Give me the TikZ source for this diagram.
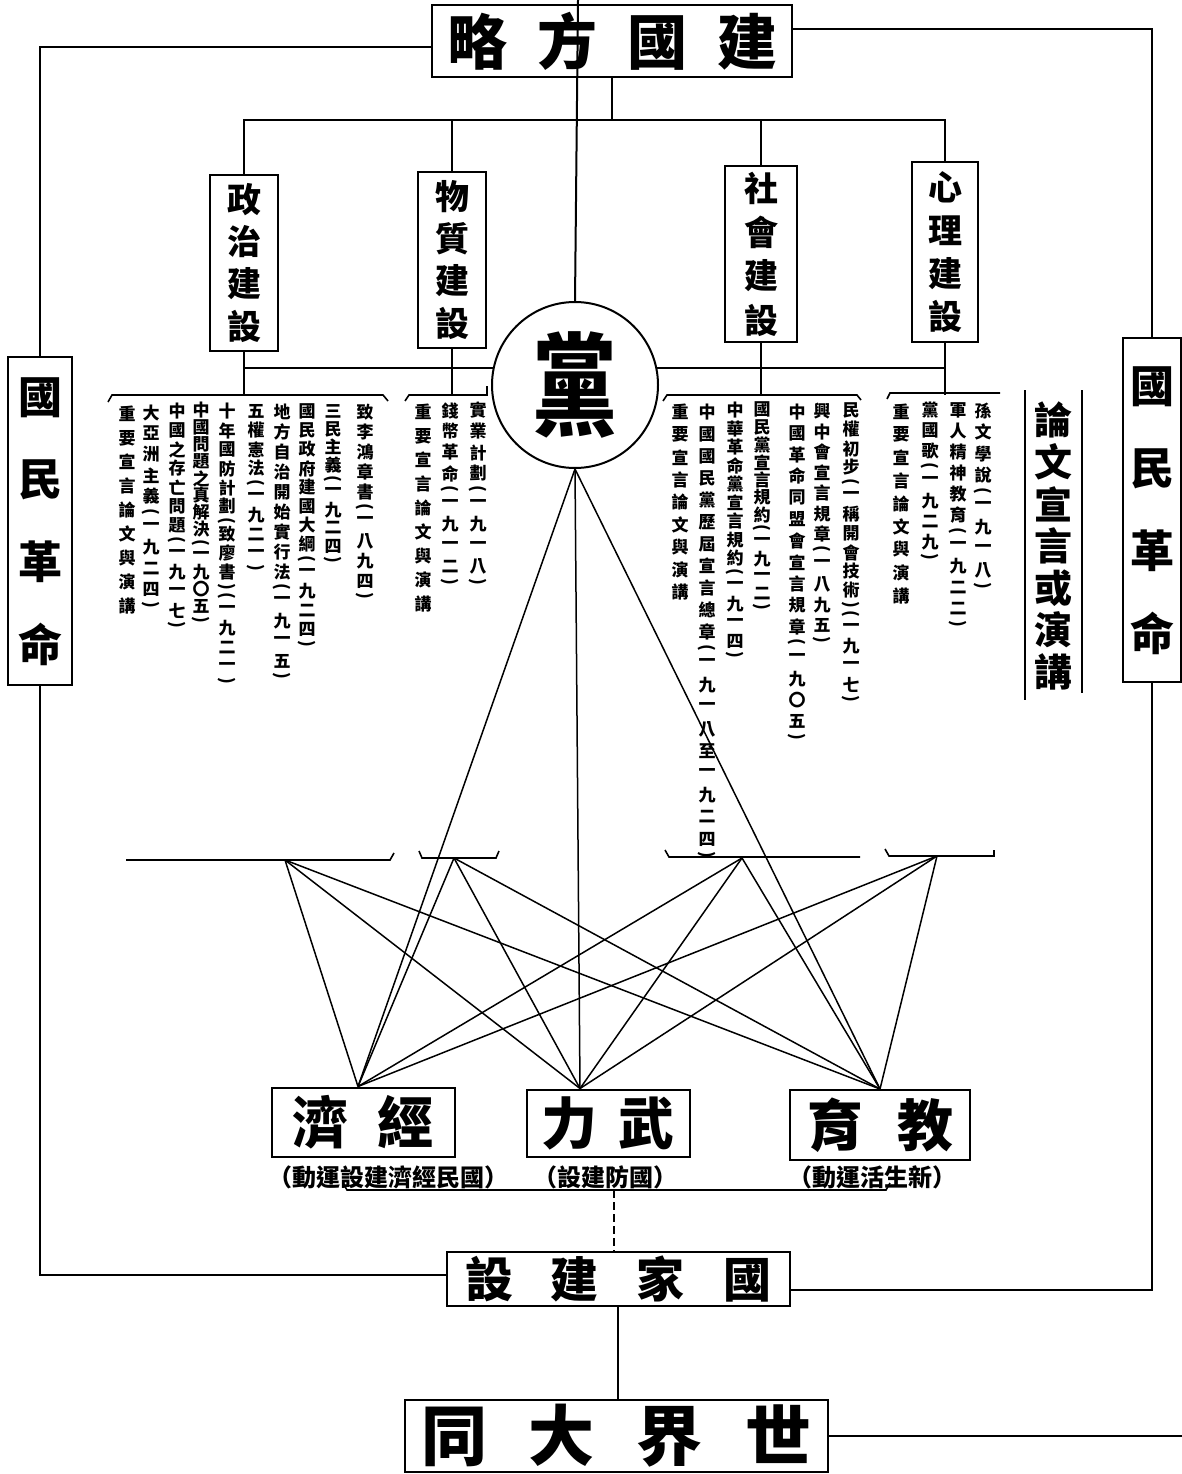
\documentclass[tikz,border=0pt]{standalone}
\usepackage{fontspec}
\setmainfont{Noto Sans CJK TC}
\usepackage{graphicx}

\newdimen\vstep
\def\vcolloop#1{\ifx\relax#1\else\vcolchar{#1}\expandafter\vcolloop\fi}
\def\vcolchar#1{\ifx(#1\vcolparen{(}\else\ifx)#1\vcolparen{)}\else
  \hbox to 1.1em{\hss\vbox to\vstep{\vss\hbox{#1}\vss}\hss}\fi\fi}
\def\vcolparen#1{\hbox to 1.1em{\hss\vbox to 9pt{\vss\hbox{\rotatebox{-90}{#1}}\vss}\hss}}
\newcommand\vcol[2][19pt]{\vbox{\offinterlineskip\vstep=#1\relax\vcolloop#2\relax}}

\begin{document}
\bfseries
\begin{tikzpicture}[x=1pt,y=-1pt,line width=2pt]
    \tikzset{box/.style={draw,inner sep=0pt},
      bigbox/.style={box,font=\fontsize{#1}{#1}\selectfont},
      pillar/.style={box,minimum width=68pt,minimum height=176pt,font=\fontsize{34}{34}\selectfont},
      col/.style={inner sep=0pt,anchor=north,font=\fontsize{17}{17}\selectfont},
      sub/.style={inner sep=0pt,font=\fontsize{24}{24}\selectfont},
      fan/.style={line width=1.5pt},
      hook/.style={line width=1.6pt}}
    \useasboundingbox (0,0) rectangle (1182,1474);

    \node[bigbox=60,minimum width=360pt,minimum height=72pt] (jgfl) at (612,41) {略\hspace{30pt}方\hspace{30pt}國\hspace{30pt}建};
    \node[pillar] (zz) at (244,263) {\vcol[42pt]{政治建設}};
    \node[pillar] (wz) at (452,260) {\vcol[42pt]{物質建設}};
    \node[pillar,minimum width=72pt] (sh) at (761,254) {\vcol[44pt]{社會建設}};
    \node[pillar,minimum width=66pt,minimum height=180pt] (xl) at (945,252) {\vcol[43pt]{心理建設}};
    \node[bigbox=44,minimum width=64pt,minimum height=317pt] (gml) at (40,521) {\vcol[82pt]{國民革命}};
    \node[bigbox=44,minimum width=58pt,minimum height=344pt] (gmr) at (1152,510) {\vcol[82pt]{國民革命}};

    \coordinate (top) at (578,0);
    \coordinate (bar) at (0,120);
    \coordinate (mid) at (0,368);
    \coordinate (ub) at (0,395);
    \draw (zz.south |- mid) -- (xl.south |- mid);
    \node[draw,circle,fill=white,minimum size=166pt,inner sep=0pt,font=\fontsize{100}{100}\selectfont] (dang) at (575,385) {\scalebox{0.85}[1.12]{黨}};

    \draw (top) -- (dang.north);
    \draw (jgfl.south) -- (jgfl.south |- bar);
    \draw (zz.north) -- (zz.north |- bar) -- (xl.north |- bar) -- (xl.north);
    \draw (wz.north) -- (wz.north |- bar);
    \draw (sh.north) -- (sh.north |- bar);
    \draw (zz.south) -- (zz.south |- ub);
    \draw (wz.south) -- (wz.south |- ub);
    \draw (sh.south) -- (sh.south |- ub);
    \draw (xl.south) -- (xl.south |- ub);
    \draw ([yshift=-6pt]jgfl.west) -| (gml.north);
    \draw ([yshift=12pt]jgfl.east) -| (gmr.north);

    \draw[hook] (108,402) -- (112,395) -- (383,395) -- (388,401);
    \draw[hook] (405,401) -- (409,395) -- (487,395) -- (487,386);
    \draw[hook] (663,401) -- (667,395) -- (857,395) -- (861,400);
    \draw[hook] (887,399) -- (890,393) -- (1000,393);

    \node[col] (z1) at (365,401) {\vcol[20pt]{致李鴻章書(一八九四)}};
    \node[col] (z2) at (333,401) {\vcol[18pt]{三民主義(一九二四)}};
    \node[col] (z3) at (307,401) {\vcol[19pt]{國民政府建國大綱(一九二四)}};
    \node[col] (z4) at (282,401) {\vcol[20pt]{地方自治開始實行法(一九一五)}};
    \node[col] (z5) at (256,401) {\vcol[19pt]{五權憲法(一九二一)}};
    \node[col] (z6) at (227,401) {\vcol[19pt]{十年國防計劃(致廖書)(一九二一)}};
    \node[col] (z7) at (201,401) {\vcol[17pt]{中國問題之真解決(一九〇五)}};
    \node[col] (z8) at (177,401) {\vcol[19pt]{中國之存亡問題(一九一七)}};
    \node[col] (z9) at (151,401) {\vcol[21pt]{大亞洲主義(一九二四)}};
    \node[col] (z10) at (127,401) {\vcol[24pt]{重要宣言論文與演講}};
    \node[col] (w1) at (478,399) {\vcol[21pt]{實業計劃(一九一八)}};
    \node[col] (w2) at (450,399) {\vcol[21pt]{錢幣革命(一九一二)}};
    \node[col] (w3) at (423,399) {\vcol[24pt]{重要宣言論文與演講}};
    \node[col] (s1) at (851,400) {\vcol[19pt]{民權初步(一稱開會技術)(一九一七)}};
    \node[col] (s2) at (822,400) {\vcol[20.5pt]{興中會宣言規章(一八九五)}};
    \node[col] (s3) at (797,400) {\vcol[21.5pt]{中國革命同盟會宣言規章(一九〇五)}};
    \node[col] (s4) at (762,400) {\vcol[17.5pt]{國民黨宣言規約(一九一二)}};
    \node[col] (s5) at (735,400) {\vcol[18.5pt]{中華革命黨宣言規約(一九一四)}};
    \node[col] (s6) at (707,400) {\vcol[22pt]{中國國民黨歷屆宣言總章(一九一八至一九二四)}};
    \node[col] (s7) at (680,400) {\vcol[22.5pt]{重要宣言論文與演講}};
    \node[col] (x1) at (983,399) {\vcol[21.5pt]{孫文學說(一九一八)}};
    \node[col] (x2) at (958,399) {\vcol[21pt]{軍人精神教育(一九二二)}};
    \node[col] (x3) at (930,399) {\vcol[20.5pt]{黨國歌(一九二九)}};
    \node[col] (x4) at (901,399) {\vcol[23pt]{重要宣言論文與演講}};

    \node[col,font=\fontsize{38}{38}\selectfont] (lw) at (1053,398) {\vcol[42pt]{論文宣言或演講}};
    \draw (1025,390) -- (1025,700);
    \draw (1082,390) -- (1082,693);

    \node[bigbox=56,minimum width=183pt,minimum height=69pt] (jj) at (363,1122) {濟\hspace{30pt}經};
    \node[bigbox=56,minimum width=163pt,minimum height=67pt] (wl) at (608,1123) {力\hspace{22pt}武};
    \node[bigbox=56,minimum width=180pt,minimum height=70pt] (jy) at (880,1125) {育\hspace{34pt}教};
    \node[sub] (jjs) at (388,1177) {（動運設建濟經民國）};
    \node[sub] (wls) at (605,1177) {（設建防國）};
    \node[sub] (jys) at (872,1177) {（動運活生新）};

    \coordinate (f1) at (285,860);
    \coordinate (f2) at (454,858);
    \coordinate (f3) at (742,858);
    \coordinate (f4) at (937,856);
    \draw[hook] (126,860) -- (390,860) -- (394,853);
    \draw[hook] (419,851) -- (422,858) -- (496,858) -- (499,851);
    \draw[hook] (665,850) -- (669,857) -- (860,857);
    \draw[hook] (885,849) -- (889,856) -- (994,856) -- (994,850);

    \coordinate (jjt) at ([xshift=-5pt]jj.north);
    \coordinate (wlt) at ([xshift=-28pt]wl.north);
    \coordinate (jyt) at (jy.north);
    \draw[fan] (dang.south) -- (jjt);
    \draw[fan] (dang.south) -- (wlt);
    \draw[fan] (dang.south) -- (jyt);
    \draw[fan] (f1) -- (jjt);
    \draw[fan] (f1) -- (wlt);
    \draw[fan] (f1) -- (jyt);
    \draw[fan] (f2) -- (jjt);
    \draw[fan] (f2) -- (wlt);
    \draw[fan] (f2) -- (jyt);
    \draw[fan] (f3) -- (jjt);
    \draw[fan] (f3) -- (wlt);
    \draw[fan] (f3) -- (jyt);
    \draw[fan] (f4) -- (jjt);
    \draw[fan] (f4) -- (wlt);
    \draw[fan] (f4) -- (jyt);

    \node[bigbox=48,minimum width=343pt,minimum height=54pt] (gj) at (618,1279) {設\hspace{38pt}建\hspace{38pt}家\hspace{38pt}國};
    \node[bigbox=66,minimum width=423pt,minimum height=72pt] (sj) at (616,1436) {同\hspace{42pt}大\hspace{42pt}界\hspace{42pt}世};
    \coordinate (kb) at (614,1190);
    \coordinate (re) at (1182,1436);
    \draw[hook] (343,1183) -- (347,1190) -- (886,1190) -- (890,1183);
    \draw[hook,dash pattern=on 8pt off 4pt] (kb) -- (kb |- gj.north);
    \draw (gml.south) |- ([yshift=4pt]gj.west);
    \draw (gmr.south) |- ([yshift=-11pt]gj.east);
    \draw (gj.south) -- (gj.south |- sj.north);
    \draw (sj.east) -- (re);
\end{tikzpicture}
\end{document}
